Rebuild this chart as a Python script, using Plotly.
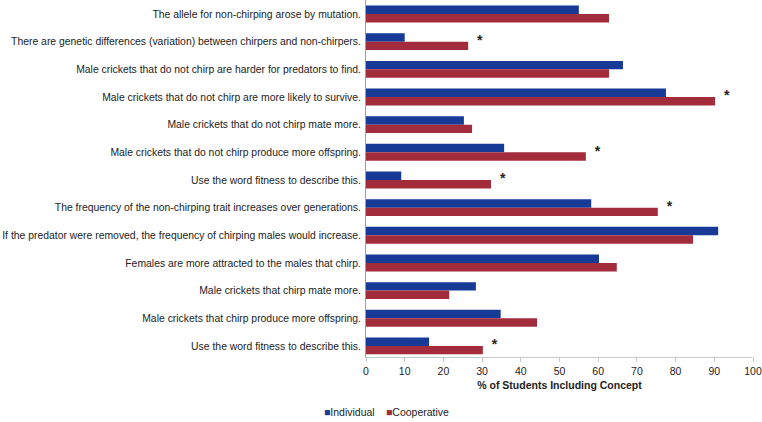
import plotly.graph_objects as go

concepts = [
    "The allele for non-chirping arose by mutation.",
    "There are genetic differences (variation) between chirpers and non-chirpers.",
    "Male crickets that do not chirp are harder for predators to find.",
    "Male crickets that do not chirp are more likely to survive.",
    "Male crickets that do not chirp mate more.",
    "Male crickets that do not chirp produce more offspring.",
    "Use the word fitness to describe this.",
    "The frequency of the non-chirping trait increases over generations.",
    "If the predator were removed, the frequency of chirping males would increase.",
    "Females are more attracted to the males that chirp.",
    "Male crickets that chirp mate more.",
    "Male crickets that chirp produce more offspring.",
    "Use the word fitness to describe this.",
]
individual = [55.0, 10.0, 66.4, 77.5, 25.3, 35.7, 9.1, 58.2, 91.0, 60.2, 28.4, 34.8, 16.3]
cooperative = [62.8, 26.4, 62.8, 90.2, 27.4, 56.8, 32.3, 75.4, 84.5, 64.8, 21.5, 44.2, 30.2]
significant = [False, True, False, True, False, True, True, True, False, False, False, False, True]
x_ticks = [0, 10, 20, 30, 40, 50, 60, 70, 80, 90, 100]
series_names = ["Individual", "Cooperative"]
series_colors = ["#163a96", "#a32c3c"]

idx = list(range(len(concepts)))
font = "Liberation Sans, Arial, sans-serif"

fig = go.Figure()
for name, vals, col in zip(series_names, [individual, cooperative], series_colors):
    fig.add_trace(go.Bar(y=idx, x=vals, orientation="h", name=name,
                         marker_color=col, marker_line_width=0, showlegend=False))

star_y = [i for i, s in zip(idx, significant) if s]
star_x = [c + 3 for c, s in zip(cooperative, significant) if s]
fig.add_trace(go.Scatter(x=star_x, y=star_y, mode="text", text=["<b>*</b>"] * len(star_y),
                         textfont=dict(size=14, color="#222222", family=font),
                         textposition="middle center", showlegend=False, hoverinfo="skip"))

PLOT_TOP, PLOT_BOTTOM = 0, 357
# legend drawn as text annotations (small square + label)
legend_x = [322, 384]
for name, col, lx in zip(series_names, series_colors, legend_x):
    fig.add_annotation(
        x=(lx - 366) / 387, y=(PLOT_BOTTOM - 412) / (PLOT_BOTTOM - PLOT_TOP),
        xref="paper", yref="paper",
        xanchor="left", yanchor="middle", showarrow=False,
        text=f"<span style='color:{col}'>■</span>{name}",
        font=dict(size=10.5, color="#222222", family=font),
    )

fig.update_layout(
    width=762, height=422,
    margin=dict(l=366, r=9, t=PLOT_TOP, b=422 - PLOT_BOTTOM),
    paper_bgcolor="white", plot_bgcolor="white",
    barmode="group", bargap=0.39, bargroupgap=0,
    font=dict(family=font, size=10.5, color="#222222"),
    showlegend=False,
)
fig.update_yaxes(
    range=[len(concepts) - 0.6, -0.506], tickmode="array", tickvals=idx, ticktext=concepts,
    showline=True, linecolor="#a0a0a0", linewidth=1, showgrid=False, zeroline=False,
    ticks="", ticklen=0, tickfont=dict(size=10.4), automargin=False, ticklabelstandoff=2,
)
fig.update_xaxes(
    range=[0, 100], tickvals=x_ticks, showgrid=False, zeroline=False,
    showline=True, linecolor="#c8c8c8", linewidth=1, ticks="outside", ticklen=4,
    tickcolor="#c8c8c8", tickfont=dict(size=10.5), automargin=False,
    title=dict(text="<b>% of Students Including Concept</b>", font=dict(size=10.5), standoff=6),
)

fig.write_html("out.html", config={"displayModeBar": False},
               post_script="document.body.style.margin='0';document.body.style.overflow='hidden';")
